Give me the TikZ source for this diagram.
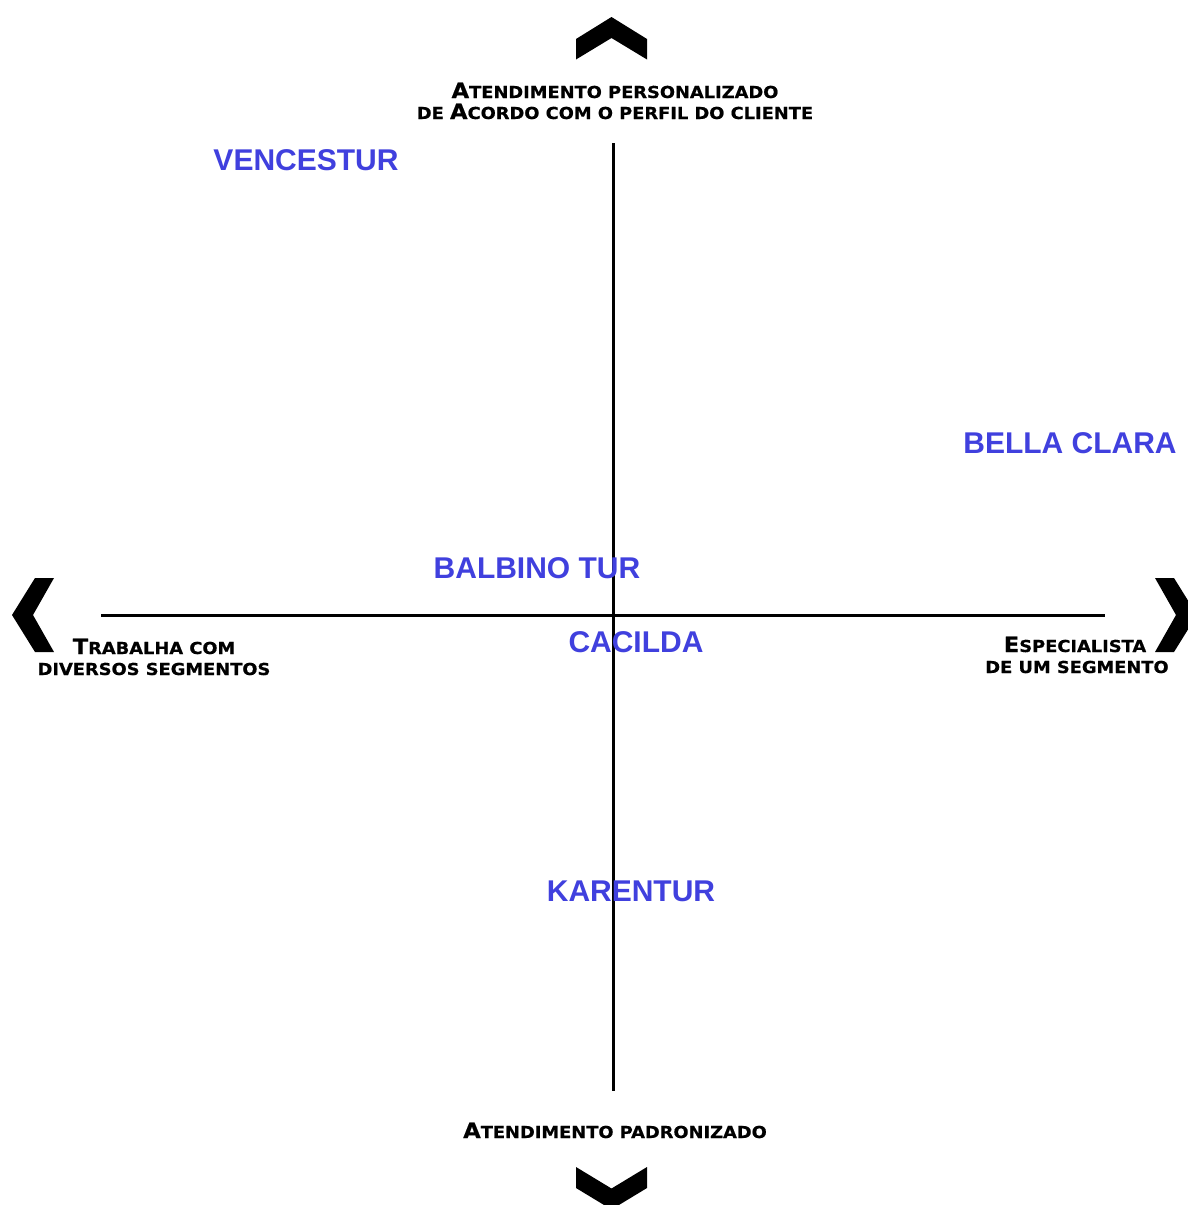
\documentclass[tikz,border=0pt]{standalone}
\usepackage{fontspec}
\setmainfont{Liberation Sans}
\newfontfamily\capfont[FakeStretch=1.08,FakeBold=0.6]{DejaVu Sans}
\definecolor{compblue}{RGB}{64,64,222}
\newcommand\BigC[1]{{\fontsize{21}{21}\selectfont #1}}
\tikzset{
  axis/.style={line width=3pt, black},
  chevron/.style={fill=black, draw=none},
  caption/.style={font=\capfont\bfseries\fontsize{16.5}{17}\selectfont, anchor=base, inner sep=0pt, text=black},
  company/.style={font=\bfseries\fontsize{30}{30}\selectfont, anchor=base, inner sep=0pt, text=compblue}
}
\begin{document}
\begin{tikzpicture}[x=1pt,y=-1pt]
\useasboundingbox (0,0) rectangle (1187,1205);
\fill[white] (0,0) rectangle (1187,1205);
% axes
\coordinate (vt) at (613,143);
\coordinate (vb) at (613,1091);
\coordinate (hl) at (101,615);
\coordinate (hr) at (1105,615);
\draw[axis] (vt) -- (vb);
\draw[axis] (hl) -- (hr);
% chevrons
\fill[chevron] (611.5,17) -- (576,39) -- (576,59.5) -- (611.5,38) -- (647,59.5) -- (647,39) -- cycle;
\fill[chevron] (576,1167) -- (611.5,1188.5) -- (647,1167) -- (647,1188) -- (611.5,1209.5) -- (576,1188) -- cycle;
\fill[chevron] (35,578) -- (12,615) -- (35,652) -- (54,652) -- (33,615) -- (54,578) -- cycle;
\fill[chevron] (1155,578) -- (1176,615) -- (1155,652) -- (1174,652) -- (1197,615) -- (1174,578) -- cycle;
% captions
\node[caption] (t1) at (615,98) {\BigC{A}TENDIMENTO PERSONALIZADO};
\node[caption] (t2) at (615,119) {DE \BigC{A}CORDO COM O PERFIL DO CLIENTE};
\node[caption] (b1) at (615,1138) {\BigC{A}TENDIMENTO PADRONIZADO};
\node[caption] (l1) at (154,654) {\BigC{T}RABALHA COM};
\node[caption] (l2) at (154,675) {DIVERSOS SEGMENTOS};
\node[caption] (r1) at (1075,652) {\BigC{E}SPECIALISTA};
\node[caption] (r2) at (1077,673) {DE UM SEGMENTO};
% companies
\node[company] (vencestur) at (306,170) {VENCESTUR};
\node[company] (bella) at (1070,453) {BELLA CLARA};
\node[company] (balbino) at (537,578) {BALBINO TUR};
\node[company] (cacilda) at (636,652) {CACILDA};
\node[company] (karentur) at (631,901) {KARENTUR};
\end{tikzpicture}
\end{document}
